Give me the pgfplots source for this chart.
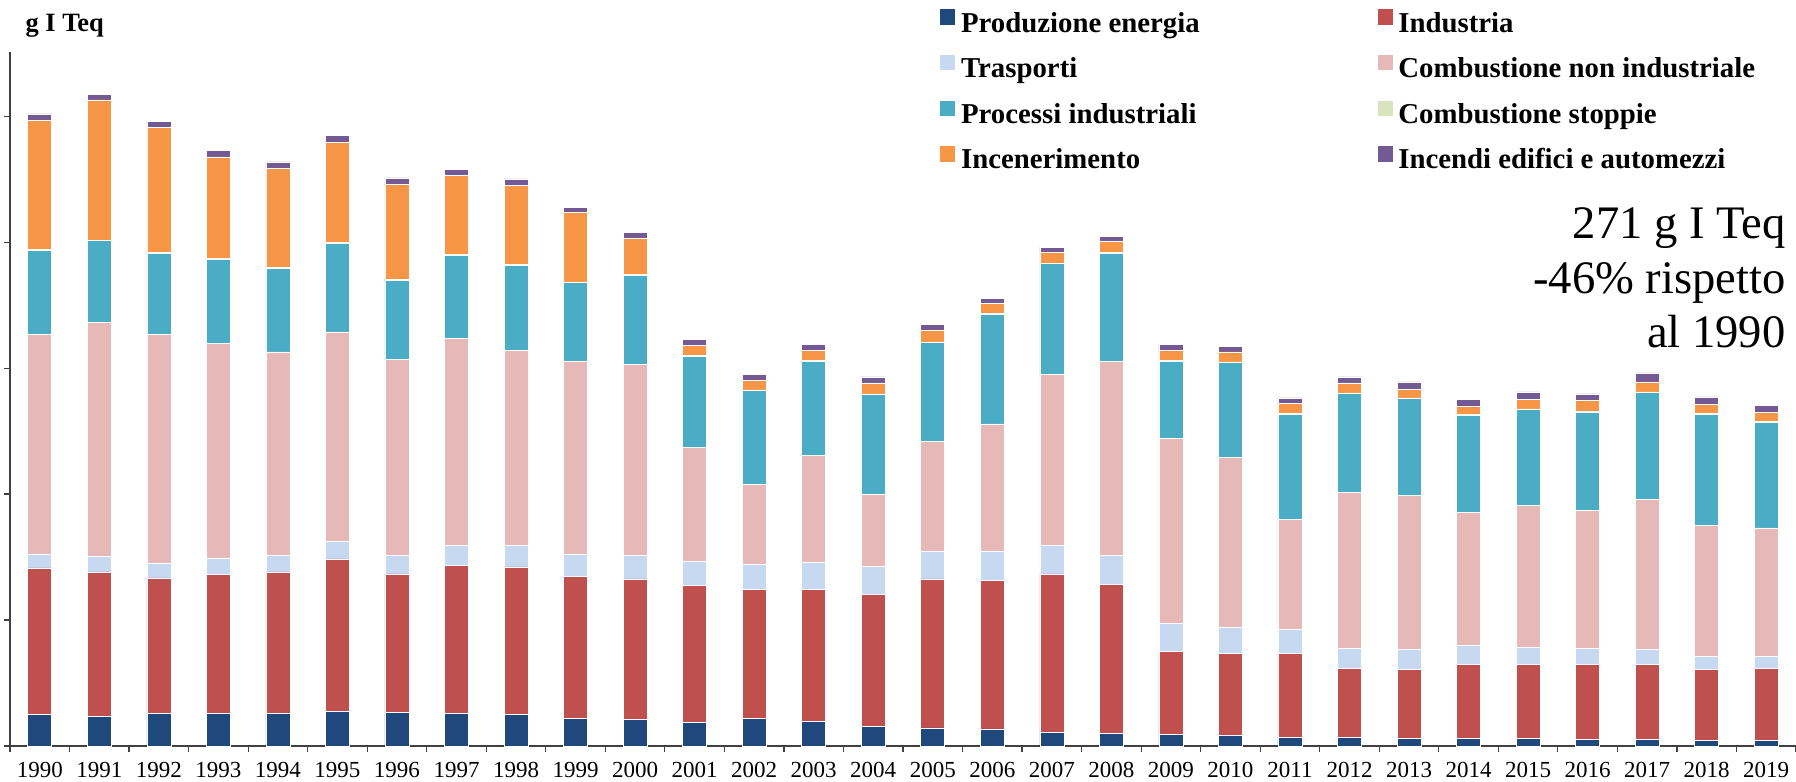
\documentclass[border=0pt]{standalone}
\usepackage{pgfplots}
\pgfplotsset{compat=1.18}
\usepackage{pgfplotstable}
\usepackage{fontspec}
\setmainfont{Liberation Serif}

\definecolor{cPE}{HTML}{1F497D}
\definecolor{cInd}{HTML}{C0504D}
\definecolor{cTras}{HTML}{C6D9F1}
\definecolor{cCNI}{HTML}{E6B9B8}
\definecolor{cProc}{HTML}{4BACC6}
\definecolor{cStop}{HTML}{D7E4BD}
\definecolor{cInc}{HTML}{F79646}
\definecolor{cFire}{HTML}{735A94}
\definecolor{axcol}{HTML}{404040}

\pgfplotstableread{
x  PE    Ind    Tras  CNI    Proc  Stop Inc    Fire
0  25.0  116.4  11.1  174.2  66.8  0.5  103.0  4.8
1  23.8  114.4  12.3  186.1  64.5  0.5  111.3  4.7
2  25.7  107.8  11.8  181.4  64.5  0.5  99.4   5.1
3  25.7  110.5  13.1  170.3  66.8  0.5  80.8   5.2
4  25.7  112.5  13.1  161.6  66.4  0.5  78.8   5.2
5  27.7  120.8  13.9  166.3  70.4  0.5  79.6   5.6
6  26.9  109.7  14.7  155.6  62.9  0.5  75.6   5.2
7  25.7  117.7  15.8  164.4  66.0  0.5  63.0   4.7
8  25.0  117.2  17.0  154.9  67.6  0.5  62.9   5.2
9  21.8  112.9  17.8  152.8  62.5  0.5  55.1   3.9
10 21.0  111.7  18.6  151.7  70.8  0.5  28.5   5.1
11 19.0  108.5  19.0  90.7   72.4  0.5  7.9    4.8
12 22.2  102.2  19.8  63.7   74.4  0.5  7.5    4.7
13 19.8  104.6  21.3  84.8   75.1  0.5  8.0    4.7
14 15.8  104.6  22.2  57.0   79.5  0.5  8.7    4.8
15 14.3  118.4  21.8  87.5   78.3  0.5  9.1    4.8
16 13.5  118.0  23.0  101.3  87.1  0.5  8.3    3.5
17 11.1  125.5  22.6  135.8  87.9  0.5  8.7    3.9
18 10.3  118.0  23.0  154.0  85.9  0.5  9.1    4.0
19 9.5   65.7   22.2  146.6  61.6  0.5  8.0    4.7
20 8.3   65.4   20.6  135.0  75.2  0.5  7.9    4.3
21 7.1   66.6   18.6  87.5   83.5  0.5  7.9    4.7
22 7.1   54.7   15.4  124.0  78.7  0.5  7.9    4.8
23 6.3   54.3   15.8  122.8  76.7  0.5  6.8    5.9
24 6.3   58.3   15.0  106.1  76.8  0.5  6.7    5.5
25 6.3   58.3   13.8  112.9  75.9  0.5  7.5    6.0
26 5.5   59.1   13.0  109.3  78.3  0.5  8.8    5.1
27 5.5   59.1   12.2  118.8  85.1  0.5  7.9    7.1
28 4.4   56.2   10.3  104.1  88.3  0.5  7.5    5.9
29 4.4   57.4   9.1   102.2  83.8  0.5  7.2    5.9
}\data

\begin{document}
\begin{tikzpicture}
\path[use as bounding box] (0,0) rectangle (898pt,391pt);
\begin{axis}[
  at={(5pt,18pt)}, anchor=south west,
  scale only axis, width=893pt, height=347pt,
  xmin=-0.5, xmax=29.5, ymin=0, ymax=551,
  axis x line*=bottom, axis y line*=left,
  axis line style={draw=axcol, line width=0.7pt},
  ybar stacked, bar width=12pt,
  ytick={0,100,200,300,400,500}, yticklabels={},
  tick align=outside, major tick length=3pt,
  ytick style={draw=axcol, line width=0.6pt},
  xtick={0,...,29},
  xticklabels={1990,1991,1992,1993,1994,1995,1996,1997,1998,1999,2000,2001,2002,2003,2004,2005,2006,2007,2008,2009,2010,2011,2012,2013,2014,2015,2016,2017,2018,2019},
  xtick style={draw=none},
  extra x ticks={-0.5,0.5,...,29.5},
  extra x tick labels={},
  extra x tick style={xtick style={draw=axcol, line width=0.6pt}},
  xticklabel style={font=\fontsize{11.5}{12}\selectfont, anchor=base, yshift=-13pt},
  legend columns=2,
  legend cell align=left,
  legend image code/.code={\fill[#1] (0pt,0.3pt) rectangle (8pt,8.5pt);},
  legend style={at={(axis description cs:0.5202,1.0634)}, anchor=north west,
    draw=none, fill=none, inner sep=0pt,
    font=\bfseries\fontsize{14.4}{16}\selectfont,
    nodes={inner sep=0pt, text height=10pt, text depth=3.5pt},
    row sep=7.4pt,
    /tikz/every odd column/.style={column sep=2.5pt},
    /tikz/every even column/.style={column sep=88.5pt}},
  clip=false,
]
\addplot[fill=cPE, draw=white, line width=0.3pt] table[x=x,y=PE]{\data};
\addlegendentry{Produzione energia}
\addplot[fill=cInd, draw=white, line width=0.3pt] table[x=x,y=Ind]{\data};
\addlegendentry{Industria}
\addplot[fill=cTras, draw=white, line width=0.3pt] table[x=x,y=Tras]{\data};
\addlegendentry{Trasporti}
\addplot[fill=cCNI, draw=white, line width=0.3pt] table[x=x,y=CNI]{\data};
\addlegendentry{Combustione non industriale}
\addplot[fill=cProc, draw=white, line width=0.3pt] table[x=x,y=Proc]{\data};
\addlegendentry{Processi industriali}
\addplot[fill=cStop, draw=white, line width=0.3pt] table[x=x,y=Stop]{\data};
\addlegendentry{Combustione stoppie}
\addplot[fill=cInc, draw=white, line width=0.3pt] table[x=x,y=Inc]{\data};
\addlegendentry{Incenerimento}
\addplot[fill=cFire, draw=white, line width=0.3pt] table[x=x,y=Fire]{\data};
\addlegendentry{Incendi edifici e automezzi}
\end{axis}
\node[anchor=base west, inner sep=0pt, font=\bfseries\fontsize{13.2}{14}\selectfont] at (12.6pt,375pt) {g I Teq};
\node[anchor=north east, inner sep=0pt, align=right, font=\fontsize{23.3}{27.2}\selectfont] at (893pt,287.3pt) {271 g I Teq\\-46\% rispetto\\al 1990};
\end{tikzpicture}
\end{document}
